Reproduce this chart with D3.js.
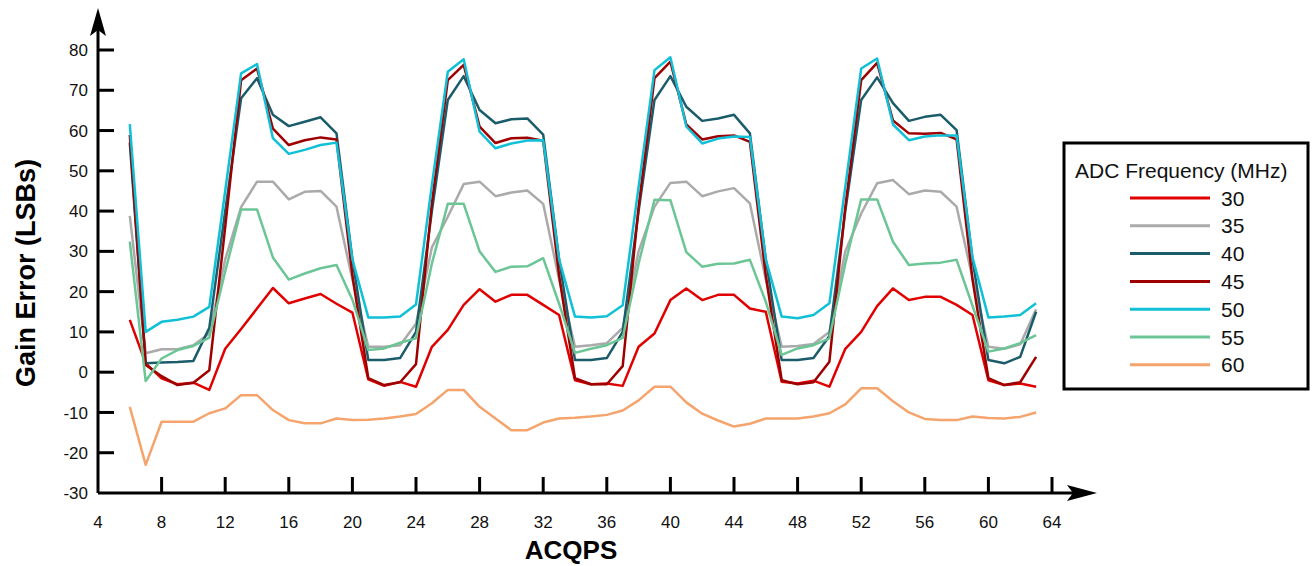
<!DOCTYPE html>
<html lang="en">
<head>
    <meta charset="UTF-8">
    <title>Gain Error vs ACQPS</title>
    <script src="https://d3js.org/d3.v7.min.js"></script>
    <style>
        body {
            margin: 0;
            background: #fff;
            font-family: "Liberation Sans", Arial, sans-serif;
        }
        .tick-label {
            font-size: 17px;
            fill: #111;
        }
        .axis-title {
            font-weight: bold;
            fill: #000;
        }
        .series {
            fill: none;
            stroke-width: 2.5px;
            stroke-linejoin: round;
        }
    </style>
</head>
<body>
    <div id="chart"></div>

    <script>
        // ACQPS values (x axis)
        const acqps = [6, 7, 8, 9, 10, 11, 12, 13, 14, 15, 16, 17, 18, 19, 20, 21, 22, 23, 24, 25,
            26, 27, 28, 29, 30, 31, 32, 33, 34, 35, 36, 37, 38, 39, 40, 41, 42, 43, 44, 45,
            46, 47, 48, 49, 50, 51, 52, 53, 54, 55, 56, 57, 58, 59, 60, 61, 62, 63];

        // gain error in LSBs, one array per ADC frequency
        const gain30 = [13, 2.2, -1.5, -3, -2.6, -4.4, 5.8, 10.7, 15.8, 20.9, 17.1, 18.3, 19.4, 17, 14.8,
            -1.8, -3.4, -2.4, -3.6, 6.3, 10.5, 16.7, 20.6, 17.5, 19.2, 19.2, 16.7, 14.2,
            -2, -3, -2.8, -3.4, 6.3, 9.6, 17.9, 20.8, 17.9, 19.2, 19.2, 15.8, 15,
            -2.4, -2.8, -2.1, -3.6, 5.8, 10, 16.4, 20.8, 17.9, 18.7, 18.7, 16.7, 14.2,
            -2, -3.2, -2.8, -3.6];
        const gain35 = [38.8, 4.7, 5.7, 5.7, 6.7, 9.6, 28, 41, 47.3, 47.3, 42.9, 44.8, 45, 41.1, 23,
            6.3, 6.3, 6.7, 12, 31, 38.6, 46.7, 47.3, 43.7, 44.6, 45.1, 41.8, 23,
            6.3, 6.7, 7.2, 11, 30, 41.1, 47, 47.3, 43.7, 44.9, 45.7, 41.9, 23,
            6.3, 6.5, 7, 10, 30, 39.4, 46.9, 47.7, 44.2, 45.1, 44.8, 41.1, 23.4,
            6.3, 5.8, 6.9, 15.6];
        const gain40 = [57, 2.2, 2.4, 2.5, 2.8, 11, 40, 68, 73, 63.9, 61.1, 62.2, 63.3, 59.3, 28,
            3, 3, 3.5, 10, 40, 67.6, 73.5, 65.1, 61.8, 62.8, 63, 59, 28,
            3, 3, 3.5, 10, 40, 67.6, 73.5, 65.9, 62.4, 63, 63.9, 59.3, 28,
            3, 3, 3.5, 9, 40, 67.6, 73.2, 66.8, 62.4, 63.4, 63.9, 60.1, 28,
            3, 2.2, 3.8, 15];
        const gain45 = [58.9, 1.8, -1, -3.2, -2.6, 0.5, 36, 72.5, 75.4, 60.5, 56.4, 57.6, 58.3, 57.8, 24,
            -1.5, -3.2, -2.5, 2, 42, 72.5, 76.3, 61, 56.9, 58.1, 58.2, 57.5, 24,
            -1.5, -3, -3, 1.5, 41, 73, 77.1, 61.5, 57.8, 58.6, 58.8, 57.2, 24,
            -2, -3, -2.5, 2.6, 41, 72.5, 76.8, 62.5, 59.3, 59.2, 59.4, 57.8, 23,
            -1.5, -3.2, -2.5, 3.8];
        const gain50 = [61.6, 10, 12.5, 13, 13.8, 16.2, 45, 74.2, 76.5, 58.1, 54.2, 55.2, 56.4, 57, 28,
            13.6, 13.6, 13.8, 16.8, 46.5, 74.6, 77.7, 59.7, 55.6, 56.8, 57.5, 57.6, 28,
            13.8, 13.6, 13.9, 16.6, 46, 75, 78.2, 61, 56.8, 58, 58.5, 58.4, 28,
            13.8, 13.4, 14.2, 17.1, 46, 75.4, 77.9, 61.5, 57.6, 58.5, 58.8, 58.8, 28.5,
            13.6, 13.8, 14.2, 17.1];
        const gain55 = [32.4, -2.2, 3.4, 5.5, 6.5, 8.6, 25, 40.4, 40.4, 28.5, 23, 24.5, 25.8, 26.6, 18,
            5.5, 5.9, 7.3, 8.4, 27, 41.8, 41.8, 30, 24.9, 26.2, 26.3, 28.3, 17,
            4.8, 5.8, 6.7, 8.5, 27, 42.8, 42.7, 29.8, 26.2, 26.9, 27, 27.9, 17.5,
            4.3, 5.9, 6.7, 8.4, 27, 42.9, 42.9, 32.4, 26.6, 27, 27.2, 27.9, 16.5,
            5.1, 5.9, 7.2, 9.2];
        const gain60 = [-8.6, -23, -12.3, -12.3, -12.3, -10.2, -9, -5.7, -5.7, -9.4, -11.9, -12.7, -12.7, -11.5, -11.9,
            -11.8, -11.5, -11, -10.4, -7.7, -4.4, -4.4, -8.6, -11.5, -14.4, -14.4, -12.5, -11.5,
            -11.3, -11, -10.6, -9.5, -7, -3.6, -3.6, -7.5, -10.3, -12, -13.5, -12.8, -11.5,
            -11.5, -11.5, -11, -10.2, -8, -4, -4, -7.2, -10, -11.6, -11.9, -11.9, -11,
            -11.4, -11.5, -11.1, -10];

        const freqLabels = ["30", "35", "40", "45", "50", "55", "60"];
        const freqColors = ["#e00000", "#aaaaaa", "#1b5c6b", "#9e0000", "#10c0d6", "#6cc595", "#f4a46c"];
        const gainSeries = [gain30, gain35, gain40, gain45, gain50, gain55, gain60];

        const xTicks = [4, 8, 12, 16, 20, 24, 28, 32, 36, 40, 44, 48, 52, 56, 60, 64];
        const yTicks = [-30, -20, -10, 0, 10, 20, 30, 40, 50, 60, 70, 80];

        const width = 1312,
            height = 566;

        const x = d3.scaleLinear().domain([4, 64]).range([98, 1052]);
        const y = d3.scaleLinear().domain([-30, 80]).range([493, 50]);

        const svg = d3.select("#chart").append("svg")
            .attr("width", width)
            .attr("height", height);

        // series lines
        const line = d3.line()
            .x((d, i) => x(acqps[i]))
            .y(d => y(d));

        svg.selectAll(".series")
            .data(gainSeries)
            .enter().append("path")
            .attr("class", "series")
            .attr("stroke", (d, i) => freqColors[i])
            .attr("d", line);

        // axes: drawn by hand to get the inward ticks and arrow heads
        const x0 = x(4), y0 = y(-30);

        svg.append("line")
            .attr("x1", x0).attr("y1", y0)
            .attr("x2", x0).attr("y2", 28)
            .attr("stroke", "#000").attr("stroke-width", 3);
        svg.append("path")
            .attr("d", `M${x0},8 L${x0 + 8},36 L${x0},30 L${x0 - 8},36 Z`)
            .attr("fill", "#000");

        svg.append("line")
            .attr("x1", x0).attr("y1", y0)
            .attr("x2", 1074).attr("y2", y0)
            .attr("stroke", "#000").attr("stroke-width", 3);
        svg.append("path")
            .attr("d", `M1097,${y0} L1067,${y0 - 8} L1073,${y0} L1067,${y0 + 8} Z`)
            .attr("fill", "#000");

        // y ticks
        svg.selectAll(".ytick")
            .data(yTicks.slice(1))
            .enter().append("line")
            .attr("x1", x0).attr("x2", x0 + 16)
            .attr("y1", d => y(d)).attr("y2", d => y(d))
            .attr("stroke", "#000").attr("stroke-width", 3);

        svg.selectAll(".ylabel")
            .data(yTicks)
            .enter().append("text")
            .attr("class", "tick-label")
            .attr("x", 88)
            .attr("y", d => y(d))
            .attr("dy", "0.36em")
            .attr("text-anchor", "end")
            .text(d => d);

        // x ticks
        svg.selectAll(".xtick")
            .data(xTicks.slice(1))
            .enter().append("line")
            .attr("x1", d => x(d)).attr("x2", d => x(d))
            .attr("y1", y0).attr("y2", y0 - 16)
            .attr("stroke", "#000").attr("stroke-width", 3);

        svg.selectAll(".xlabel")
            .data(xTicks)
            .enter().append("text")
            .attr("class", "tick-label")
            .attr("x", d => x(d))
            .attr("y", 528)
            .attr("text-anchor", "middle")
            .text(d => d);

        // axis titles
        svg.append("text")
            .attr("class", "axis-title")
            .attr("x", 571)
            .attr("y", 559)
            .attr("text-anchor", "middle")
            .style("font-size", "26px")
            .text("ACQPS");

        svg.append("text")
            .attr("class", "axis-title")
            .attr("transform", "translate(35,273) rotate(-90)")
            .attr("text-anchor", "middle")
            .style("font-size", "27px")
            .text("Gain Error (LSBs)");

        // legend
        const legend = svg.append("g")
            .attr("transform", "translate(1064,143)");

        legend.append("rect")
            .attr("width", 244)
            .attr("height", 246)
            .attr("fill", "#fff")
            .attr("stroke", "#000")
            .attr("stroke-width", 3);

        legend.append("text")
            .attr("x", 11)
            .attr("y", 35)
            .style("font-size", "21px")
            .attr("fill", "#111")
            .text("ADC Frequency (MHz)");

        const rows = legend.selectAll(".row")
            .data(freqLabels)
            .enter().append("g")
            .attr("transform", (d, i) => `translate(0,${55 + i * 27.8})`);

        rows.append("line")
            .attr("x1", 66).attr("x2", 146)
            .attr("stroke", (d, i) => freqColors[i])
            .attr("stroke-width", 3);

        rows.append("text")
            .attr("x", 157)
            .attr("dy", "0.36em")
            .style("font-size", "21px")
            .attr("fill", "#111")
            .text(d => d);
    </script>
</body>
</html>
